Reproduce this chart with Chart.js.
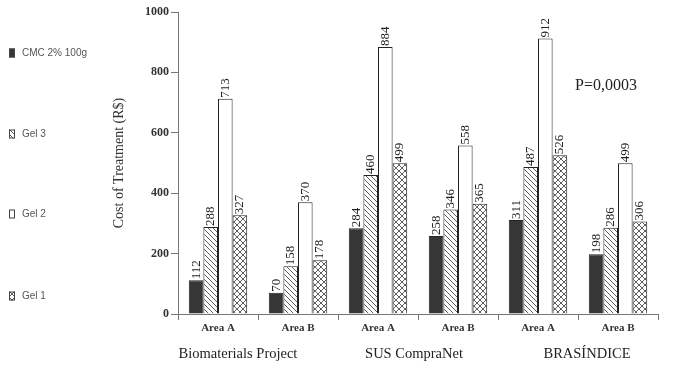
<!DOCTYPE html>
<html>
<head>
<meta charset="utf-8">
<script src="https://cdn.jsdelivr.net/npm/chart.js@4/dist/chart.umd.min.js"></script>
<style>
  html, body { margin: 0; padding: 0; background: #fff; }
  #wrap { width: 685px; height: 369px; }
</style>
</head>
<body>
<div id="wrap"><canvas id="costChart" width="685" height="369"></canvas></div>
<script>
const categories = ["Area A", "Area B", "Area A", "Area B", "Area A", "Area B"];
const groups = ["Biomaterials Project", "SUS CompraNet", "BRASÍNDICE"];
const seriesNames = ["CMC 2% 100g", "Gel 3", "Gel 2", "Gel 1"];
const cmcValues = [112, 70, 284, 258, 311, 198];
const gel3Values = [288, 158, 460, 346, 487, 286];
const gel2Values = [713, 370, 884, 558, 912, 499];
const gel1Values = [327, 178, 499, 365, 526, 306];
const yTicks = [0, 200, 400, 600, 800, 1000];
const pValueText = "P=0,0003";

// small tiled patterns for the hatched bars
function makePattern(kind) {
  const size = kind === "cross" ? 6 : 5;
  const c = document.createElement("canvas");
  c.width = size;
  c.height = size;
  const g = c.getContext("2d");
  g.fillStyle = "#fff";
  g.fillRect(0, 0, size, size);
  g.strokeStyle = "#333";
  g.lineWidth = 0.8;
  g.beginPath();
  g.moveTo(0, 0); g.lineTo(size, size);
  g.moveTo(-1, size - 1); g.lineTo(1, size + 1);
  g.moveTo(size - 1, -1); g.lineTo(size + 1, 1);
  if (kind === "cross") {
    g.moveTo(0, size); g.lineTo(size, 0);
    g.moveTo(-1, 1); g.lineTo(1, -1);
    g.moveTo(size - 1, size + 1); g.lineTo(size + 1, size - 1);
  }
  g.stroke();
  return g.createPattern(c, "repeat");
}

const fills = ["#363636", makePattern("hatch"), "#ffffff", makePattern("cross")];
const seriesValues = [cmcValues, gel3Values, gel2Values, gel1Values];

const serif = "'Liberation Serif', 'Times New Roman', serif";

const extrasPlugin = {
  id: "extras",
  afterDatasetsDraw(chart) {
    const ctx = chart.ctx;
    // value labels, rotated, sitting on top of each bar
    ctx.save();
    ctx.font = "13px " + serif;
    ctx.fillStyle = "#222";
    ctx.textAlign = "left";
    ctx.textBaseline = "middle";
    chart.data.datasets.forEach((ds, i) => {
      const meta = chart.getDatasetMeta(i);
      meta.data.forEach((bar, j) => {
        ctx.save();
        ctx.translate(bar.x, bar.y - 1);
        ctx.rotate(-Math.PI / 2);
        ctx.fillText(String(ds.data[j]), 0, 0);
        ctx.restore();
      });
    });
    ctx.restore();
  },
  afterDraw(chart) {
    const ctx = chart.ctx;
    const xs = chart.scales.x;

    // group captions under the pairs of areas
    const shifts = [-20, -4, 9];
    ctx.save();
    ctx.font = "14.5px " + serif;
    ctx.fillStyle = "#222";
    ctx.textAlign = "center";
    ctx.textBaseline = "middle";
    groups.forEach((name, k) => {
      const x = (xs.getPixelForValue(2 * k) + xs.getPixelForValue(2 * k + 1)) / 2 + shifts[k];
      ctx.fillText(name, x, 354);
    });

    // p value
    ctx.font = "16px " + serif;
    ctx.textAlign = "left";
    ctx.fillText(pValueText, 575, 86);
    ctx.restore();

    // legend down the left side
    const legendY = [53, 134, 214, 296];
    ctx.save();
    ctx.font = "10px 'Liberation Sans', Arial, sans-serif";
    ctx.textBaseline = "middle";
    chart.data.datasets.forEach((ds, i) => {
      const y = legendY[i];
      ctx.fillStyle = ds.backgroundColor;
      ctx.fillRect(9, y - 4.5, 6, 9);
      ctx.strokeStyle = "#444";
      ctx.lineWidth = 1;
      ctx.strokeRect(9.5, y - 4, 5, 8);
      ctx.fillStyle = "#555";
      ctx.fillText(ds.label, 22, y);
    });
    ctx.restore();
  }
};

new Chart(document.getElementById("costChart"), {
  type: "bar",
  data: {
    labels: categories,
    datasets: seriesNames.map((name, i) => ({
      label: name,
      data: seriesValues[i],
      backgroundColor: fills[i],
      borderColor: "#222",
      borderWidth: 1,
      borderSkipped: "bottom",
      barPercentage: 1,
      categoryPercentage: 0.73,
    })),
  },
  options: {
    responsive: false,
    animation: false,
    layout: { padding: { left: 105, right: 27, top: 12, bottom: 0 } },
    plugins: {
      legend: { display: false },
      tooltip: { enabled: false },
    },
    scales: {
      x: {
        grid: {
          display: true,
          drawOnChartArea: false,
          drawTicks: true,
          tickLength: 6,
          color: "#777",
          offset: true,
        },
        border: { display: true, color: "#777" },
        ticks: {
          font: { family: serif, size: 11, weight: "bold" },
          color: "#333",
          padding: 2,
        },
        afterFit: (s) => { s.height = 55; },
      },
      y: {
        min: 0,
        max: 1000,
        afterBuildTicks: (s) => { s.ticks = yTicks.map((v) => ({ value: v })); },
        grid: {
          drawOnChartArea: false,
          drawTicks: true,
          tickLength: 7,
          color: "#777",
        },
        border: { display: true, color: "#777" },
        ticks: {
          font: { family: serif, size: 12, weight: "bold" },
          color: "#333",
          padding: 2,
          callback: (v) => String(v),
        },
        title: {
          display: true,
          text: "Cost of Treatment (R$)",
          font: { family: serif, size: 14 },
          color: "#333",
          padding: { top: 6, bottom: 0 },
        },
        afterFit: (s) => { s.width = 73; },
      },
    },
  },
  plugins: [extrasPlugin],
});
</script>
</body>
</html>
